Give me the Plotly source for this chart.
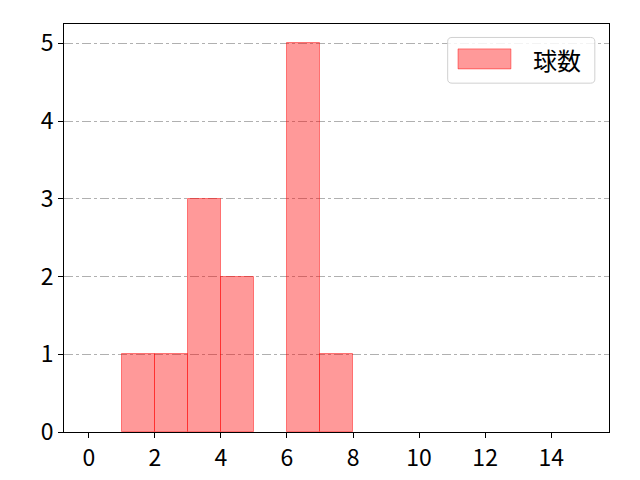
import plotly.graph_objects as go

# histogram bins (left edge) and counts
bin_starts = [1, 2, 3, 4, 6, 7]
counts = [1, 1, 3, 2, 5, 1]
series_name = "球数"
x_ticks = [0, 2, 4, 6, 8, 10, 12, 14]
y_ticks = [0, 1, 2, 3, 4, 5]

fill = "rgba(255,0,0,0.4)"
edge = "rgba(255,0,0,0.45)"
font_family = "Noto Sans CJK JP"

fig = go.Figure()
fig.add_trace(go.Bar(
    x=bin_starts,
    y=counts,
    width=1,
    offset=0,
    name=series_name,
    marker=dict(color=fill, line=dict(color=edge, width=1)),
    showlegend=False,
))

# legend drawn by hand so the patch is a wide rectangle like matplotlib
x0, x1, y0, y1 = 0.704, 0.974, 0.855, 0.967
rx, ry = 0.008, 0.010
path = (f"M {x0+rx},{y0} L {x1-rx},{y0} Q {x1},{y0} {x1},{y0+ry} "
        f"L {x1},{y1-ry} Q {x1},{y1} {x1-rx},{y1} L {x0+rx},{y1} "
        f"Q {x0},{y1} {x0},{y1-ry} L {x0},{y0+ry} Q {x0},{y0} {x0+rx},{y0} Z")
fig.add_shape(type="path", path=path, xref="paper", yref="paper",
              fillcolor="rgba(255,255,255,0.85)", line=dict(color="#d0d0d0", width=1),
              layer="above")
fig.add_shape(type="rect", xref="paper", yref="paper",
              x0=0.723, x1=0.820, y0=0.890, y1=0.939,
              fillcolor=fill, line=dict(color=edge, width=1), layer="above")
fig.add_annotation(xref="paper", yref="paper", x=0.856, y=0.914,
                   text=series_name, showarrow=False, xanchor="left", yanchor="middle",
                   font=dict(size=24, color="black", family=font_family))

axis_common = dict(
    showline=True, linecolor="black", linewidth=1, mirror=True,
    ticks="outside", ticklen=5, tickcolor="black", tickwidth=1,
    tickfont=dict(size=23, color="black", family=font_family),
    zeroline=False,
)
fig.update_xaxes(range=[-0.75, 15.75], tickvals=x_ticks, showgrid=False, **axis_common)
fig.update_yaxes(range=[0, 5.25], tickvals=y_ticks, showgrid=True,
                 gridcolor="#b0b0b0", gridwidth=1, griddash="dashdot", **axis_common)

# page body has an 8px margin, so the margins are shifted to compensate
fig.update_layout(
    width=640, height=480,
    margin=dict(l=56, r=39, t=16, b=56),
    plot_bgcolor="white", paper_bgcolor="white",
    font=dict(family=font_family),
    bargap=0,
)
fig.write_html("out.html", config={"displayModeBar": False})
